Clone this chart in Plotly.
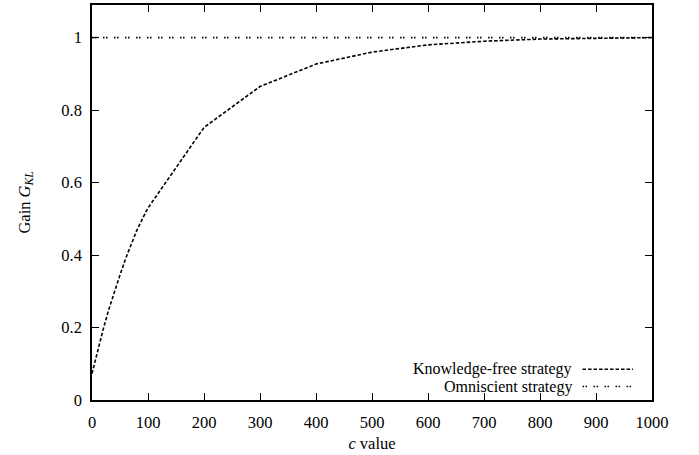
import plotly.graph_objects as go

# c values and gain for each strategy
c_values = [0, 10, 20, 30, 40, 50, 60, 70, 80, 90, 100,
            200, 300, 400, 500, 600, 700, 800, 900, 1000]
knowledge_free = [0.073, 0.137, 0.195, 0.25, 0.30, 0.345, 0.39, 0.43, 0.468, 0.50, 0.53,
                  0.752, 0.865, 0.927, 0.960, 0.980, 0.990, 0.996, 0.999, 1.0]
omniscient = [1.0] * len(c_values)

x_ticks = [0, 100, 200, 300, 400, 500, 600, 700, 800, 900, 1000]
y_ticks = [0, 0.2, 0.4, 0.6, 0.8, 1]
y_tick_text = ["0", "0.2", "0.4", "0.6", "0.8", "1"]

legend_names = ["Knowledge-free strategy", "Omniscient strategy"]
dash_styles = ["3.5px,2px", "1.5px,1.5px,1.5px,6.5px"]

FONT = "Liberation Serif, Times New Roman, serif"
FSIZE = 16.5
KEY_FSIZE = 16

fig = go.Figure()
fig.add_trace(go.Scatter(x=c_values, y=knowledge_free, mode="lines",
                         name=legend_names[0], showlegend=False,
                         line=dict(color="black", width=1.6, dash=dash_styles[0])))
fig.add_trace(go.Scatter(x=c_values, y=omniscient, mode="lines",
                         name=legend_names[1], showlegend=False,
                         line=dict(color="black", width=1.6, dash=dash_styles[1])))

# gnuplot-style key: right-aligned text with the line sample on its right
key_rows = [0.078, 0.034]
for name, dash, yk in zip(legend_names, dash_styles, key_rows):
    fig.add_annotation(x=0.86, y=yk, xref="paper", yref="paper", text=name,
                       showarrow=False, xanchor="right", yanchor="middle",
                       font=dict(family=FONT, size=KEY_FSIZE, color="black"))
    fig.add_shape(type="line", xref="paper", yref="paper",
                  x0=0.876, x1=0.966, y0=yk, y1=yk,
                  line=dict(color="black", width=1.6, dash=dash))

axis_common = dict(
    showgrid=False, zeroline=False, showline=True, linecolor="black", linewidth=1.5,
    mirror="allticks", ticks="inside", ticklen=7, tickwidth=1, tickcolor="black",
    tickfont=dict(family=FONT, size=FSIZE, color="black"),
)

fig.update_xaxes(range=[0, 1000], tickvals=x_ticks, ticklabelstandoff=6,
                 title=dict(text="<i>c</i> value",
                            font=dict(family=FONT, size=FSIZE, color="black"), standoff=7),
                 **axis_common)
fig.update_yaxes(range=[0, 1.09], tickvals=y_ticks, ticktext=y_tick_text, ticklabelstandoff=5,
                 title=dict(text="Gain <i>G<sub>KL</sub></i>",
                            font=dict(family=FONT, size=FSIZE, color="black"), standoff=27),
                 **axis_common)

fig.update_layout(
    width=699, height=455,
    margin=dict(l=92, r=47, t=3, b=55),
    paper_bgcolor="white", plot_bgcolor="white",
    font=dict(family=FONT, size=FSIZE, color="black"),
)

fig.write_html("out.html")
